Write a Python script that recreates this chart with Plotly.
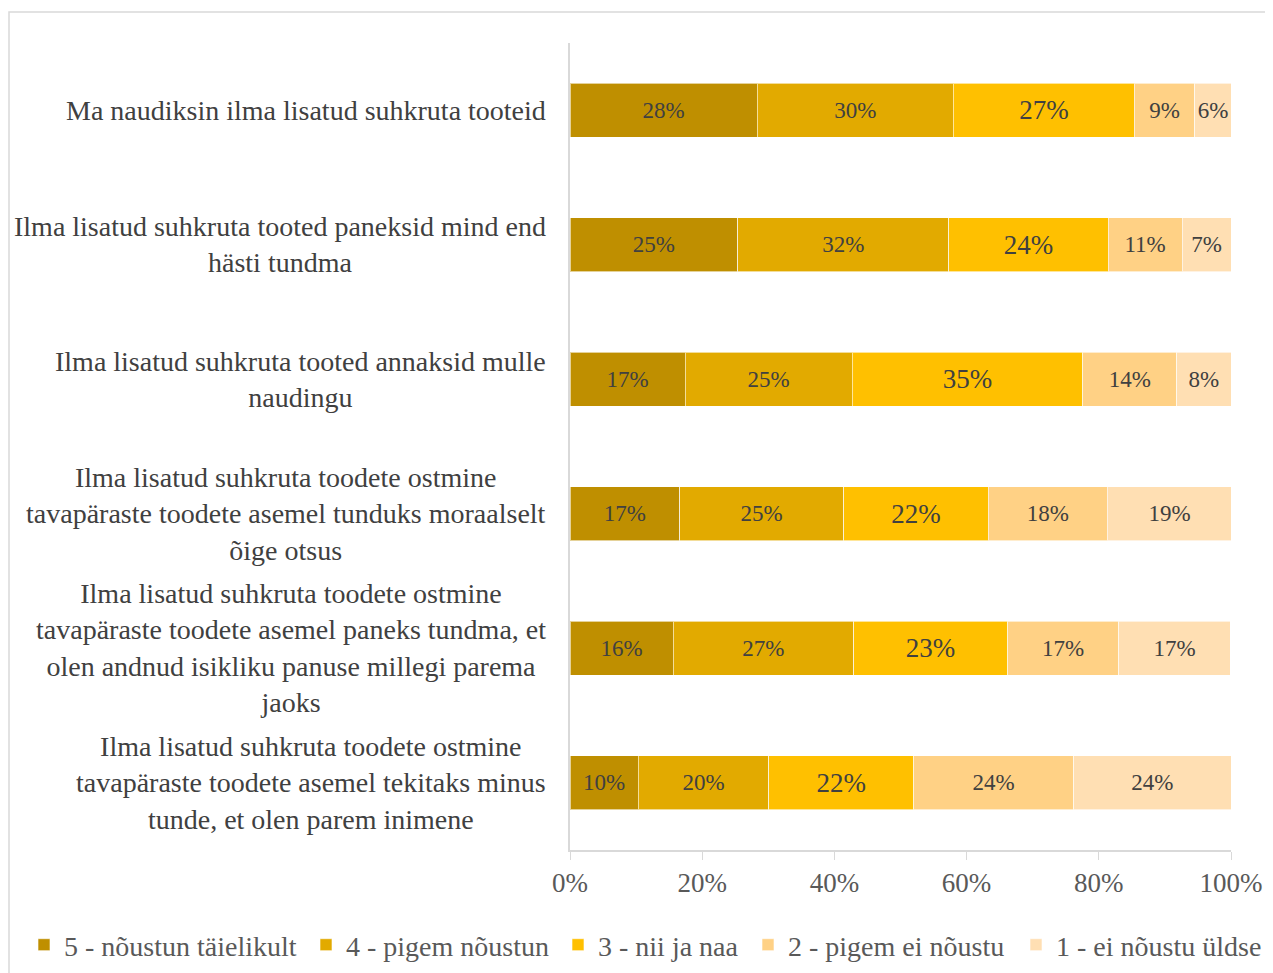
import plotly.graph_objects as go

categories = [
    "Ma naudiksin ilma lisatud suhkruta tooteid",
    "Ilma lisatud suhkruta tooted paneksid mind end<br>hästi tundma",
    "Ilma lisatud suhkruta tooted annaksid mulle<br>naudingu",
    "Ilma lisatud suhkruta toodete ostmine<br>tavapäraste toodete asemel tunduks moraalselt<br>õige otsus",
    "Ilma lisatud suhkruta toodete ostmine<br>tavapäraste toodete asemel paneks tundma, et<br>olen andnud isikliku panuse millegi parema<br>jaoks",
    "Ilma lisatud suhkruta toodete ostmine<br>tavapäraste toodete asemel tekitaks minus<br>tunde, et olen parem inimene",
]
series_names = [
    "5 - nõustun täielikult",
    "4 - pigem nõustun",
    "3 - nii ja naa",
    "2 - pigem ei nõustu",
    "1 - ei nõustu üldse",
]
s5 = [28.3, 25.4, 17.4, 16.6, 15.6, 10.3]
s4 = [29.7, 31.9, 25.3, 24.8, 27.3, 19.8]
s3 = [27.4, 24.1, 34.9, 21.9, 23.3, 21.9]
s2 = [9.1, 11.2, 14.2, 18.0, 16.8, 24.2]
s1 = [5.6, 7.4, 8.2, 18.8, 16.9, 23.8]
series_values = [s5, s4, s3, s2, s1]
colors = ["#BF8F00", "#E2AA00", "#FFC000", "#FFD185", "#FFDFB3"]
label_sizes = [23, 23, 27, 23, 23]
x_ticks = [0, 20, 40, 60, 80, 100]
x_tick_labels = ["0%", "20%", "40%", "60%", "80%", "100%"]

FONT = "Liberation Serif"
ids = list(range(len(categories)))

W, H = 1265, 965
ML, MR, MT, MB = 562, 42, 35, 123
PW, PH = W - ML - MR, H - MT - MB

# left edge (figure px) of each legend entry box
legend_left_px = [16, 298, 550, 740, 1008]
legend_center_px = 937

fig = go.Figure()
legend_layouts = {}
for k, (name, vals, col, fs) in enumerate(zip(series_names, series_values, colors, label_sizes)):
    lid = "legend" if k == 0 else f"legend{k + 1}"
    fig.add_trace(go.Bar(
        y=ids, x=vals, name=name, orientation="h", legend=lid,
        marker=dict(color=col, line=dict(color="rgba(255,255,255,0.6)", width=1)),
        texttemplate="%{x:.0f}%", textposition="inside", insidetextanchor="middle",
        textangle=0, constraintext="none",
        textfont=dict(family=FONT, size=fs, color="#404040"),
        hoverinfo="skip",
    ))
    legend_layouts[lid] = dict(
        orientation="h", xref="paper", x=(legend_left_px[k] - ML) / PW, xanchor="left",
        yref="paper", y=-(legend_center_px - (MT + PH)) / PH, yanchor="middle",
        font=dict(family=FONT, size=28, color="#595959"),
        itemwidth=30, bgcolor="rgba(0,0,0,0)",
    )

for i, c in zip(ids, categories):
    fig.add_annotation(
        xref="paper", yref="y", x=0, y=i, xshift=-22, xanchor="right",
        yanchor="middle", align="center", showarrow=False, text=c,
        font=dict(family=FONT, size=28, color="#404040"),
    )

# outer chart border
fig.add_shape(type="rect", xref="paper", yref="paper",
              x0=(1 - ML) / PW, x1=(W + 20 - ML) / PW,
              y0=-(MB + 20) / PH, y1=1 + (MT - 4) / PH,
              line=dict(color="#D9D9D9", width=1.5), fillcolor="rgba(0,0,0,0)", layer="below")

fig.update_layout(
    barmode="stack", bargap=0.6,
    width=W, height=H,
    margin=dict(l=ML, r=MR, t=MT, b=MB, autoexpand=False),
    paper_bgcolor="white", plot_bgcolor="white",
    font=dict(family=FONT, color="#595959"),
    showlegend=True,
    xaxis=dict(range=[0, 100], tickvals=x_ticks, ticktext=x_tick_labels,
               showgrid=False, zeroline=False, showline=True, linecolor="#D9D9D9",
               linewidth=1.5, ticks="outside", ticklen=8, tickcolor="#D9D9D9",
               tickfont=dict(family=FONT, size=27, color="#595959")),
    yaxis=dict(tickvals=ids, showticklabels=False, autorange="reversed",
               showgrid=False, zeroline=False, showline=True, linecolor="#D9D9D9",
               linewidth=1.5, ticks=""),
    **legend_layouts,
)

fig.write_html("out.html")
